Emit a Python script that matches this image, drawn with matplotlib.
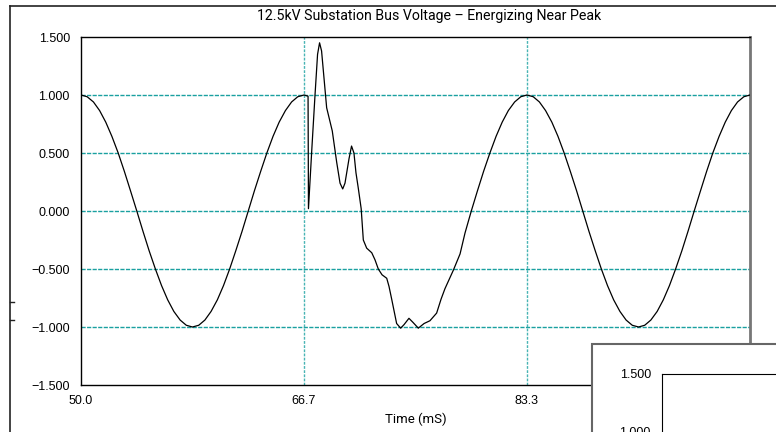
import matplotlib.pyplot as plt
from matplotlib.lines import Line2D
from matplotlib.patches import Rectangle

# bus voltage (per unit) vs time (ms)
time_ms = [
    50.00, 50.46, 50.93, 51.39, 51.85, 52.31, 52.78, 53.24, 53.70, 54.17,
    54.63, 55.09, 55.56, 56.02, 56.48, 56.94, 57.41, 57.87, 58.33, 58.80,
    59.26, 59.72, 60.19, 60.65, 61.11, 61.57, 62.04, 62.50, 62.96, 63.43,
    63.89, 64.35, 64.81, 65.28, 65.74, 66.20, 66.67,
    # breaker closes near the peak
    66.97, 67.00, 67.26, 67.49, 67.68, 67.83, 67.98, 68.36, 68.78, 69.11,
    69.36, 69.56, 69.73, 70.03, 70.22, 70.40, 70.55, 70.72, 70.94, 71.10,
    71.35, 71.73, 71.97, 72.22, 72.50, 72.85, 73.02, 73.22, 73.59, 73.89,
    74.14, 74.51, 74.81, 75.21, 75.64, 76.08, 76.58, 76.91, 77.20, 77.83,
    78.33, 78.70,
    79.17, 79.63, 80.09, 80.56, 81.02, 81.48, 81.94, 82.41, 82.87, 83.33,
    83.80, 84.26, 84.72, 85.19, 85.65, 86.11, 86.57, 87.04, 87.50, 87.96,
    88.43, 88.89, 89.35, 89.81, 90.28, 90.74, 91.20, 91.67, 92.13, 92.59,
    93.06, 93.52, 93.98, 94.44, 94.91, 95.37, 95.83, 96.30, 96.76, 97.22,
    97.69, 98.15, 98.61, 99.07, 99.54, 100.00,
]
voltage_pu = [
    1.000, 0.985, 0.940, 0.866, 0.766, 0.643, 0.500, 0.342, 0.174, 0.000,
    -0.174, -0.342, -0.500, -0.643, -0.766, -0.866, -0.940, -0.985, -1.000, -0.985,
    -0.940, -0.866, -0.766, -0.643, -0.500, -0.342, -0.174, 0.000, 0.174, 0.342,
    0.500, 0.643, 0.766, 0.866, 0.940, 0.985, 1.000,
    0.990, 0.020, 0.550, 1.000, 1.350, 1.450, 1.380, 0.890, 0.690, 0.420,
    0.240, 0.190, 0.240, 0.450, 0.560, 0.500, 0.330, 0.200, 0.020, -0.250,
    -0.320, -0.360, -0.420, -0.500, -0.550, -0.580, -0.650, -0.760, -0.970, -1.010,
    -0.980, -0.925, -0.960, -1.010, -0.970, -0.946, -0.880, -0.760, -0.670, -0.510,
    -0.370, -0.190,
    0.000, 0.174, 0.342, 0.500, 0.643, 0.766, 0.866, 0.940, 0.985, 1.000,
    0.985, 0.940, 0.866, 0.766, 0.643, 0.500, 0.342, 0.174, 0.000, -0.174,
    -0.342, -0.500, -0.643, -0.766, -0.866, -0.940, -0.985, -1.000, -0.985, -0.940,
    -0.866, -0.766, -0.643, -0.500, -0.342, -0.174, 0.000, 0.174, 0.342, 0.500,
    0.643, 0.766, 0.866, 0.940, 0.985, 1.000,
]

x_ticks = [50.0, 66.667, 83.333, 100.0]
x_labels = ["50.0", "66.7", "83.3", "100.0"]
y_ticks = [-1.5, -1.0, -0.5, 0.0, 0.5, 1.0, 1.5]
y_labels = [f"{v:.3f}".replace("-", "\u2212") for v in y_ticks]

title = "12.5kV Substation Bus Voltage \u2013 Energizing Near Peak"
plt.rcParams["font.family"] = ["Liberation Sans", "DejaVu Sans"]
label_font = ["Roboto", "DejaVu Sans"]

W, H = 776, 432
fx = lambda px: px / W
fy = lambda py: 1 - py / H

fig = plt.figure(figsize=(W / 100, H / 100), dpi=100)

ax = fig.add_axes([fx(81), fy(385), fx(750) - fx(81), fy(37) - fy(385)])
ax.plot(time_ms, voltage_pu, color="black", lw=0.9, zorder=3)
ax.set_xlim(50, 100)
ax.set_ylim(-1.5, 1.5)
ax.set_xticks(x_ticks)
ax.set_xticklabels(x_labels)
ax.set_yticks(y_ticks)
ax.set_yticklabels(y_labels)
ax.tick_params(length=0, labelsize=9, pad=8)
ax.tick_params(axis="x", pad=7)
ax.set_xlabel("Time (mS)", family=label_font, fontsize=9.5, labelpad=4)

for v in y_ticks[1:-1]:
    ax.axhline(v, color="#1aa0a0", lw=1.0, dashes=(3, 1), zorder=1)
for t in x_ticks[1:3]:
    ax.axvline(t, color="#48b4b4", lw=1.0, dashes=(2, 1), zorder=1)

for s in ["left", "top", "bottom"]:
    ax.spines[s].set_color("black")
    ax.spines[s].set_linewidth(1.0)
ax.spines["right"].set_color("#777777")
ax.spines["right"].set_linewidth(2.0)

# outer frame
fig.add_artist(Line2D([fx(10), 1], [fy(6), fy(6)], color="#222222", lw=1.2))
fig.add_artist(Line2D([fx(10), fx(10)], [fy(6), 0], color="#222222", lw=1.2))
for py in (302, 320):
    fig.add_artist(Line2D([fx(10), fx(14)], [fy(py), fy(py)], color="#222222", lw=1.0))

fig.text(fx(429), fy(16), title, family=label_font, fontsize=10.2,
         ha="center", va="center")

# second panel peeking in at the lower right
fig.add_artist(Rectangle((fx(592), fy(440)), fx(200), (440 - 344) / H,
                         transform=fig.transFigure, facecolor="white",
                         edgecolor="#666666", lw=1.5, zorder=2))

ax2 = fig.add_axes([fx(662), fy(374 + 348), fx(700), 348 / H])
ax2.set_zorder(3)
ax2.set_ylim(-1.5, 1.5)
ax2.set_xlim(50, 100)
ax2.set_xticks([])
ax2.set_yticks(y_ticks[-2:])
ax2.set_yticklabels(y_labels[-2:])
ax2.tick_params(length=0, labelsize=9, pad=8)
ax2.spines["right"].set_visible(False)
ax2.spines["bottom"].set_visible(False)

fig.savefig("out.png", dpi=100)
